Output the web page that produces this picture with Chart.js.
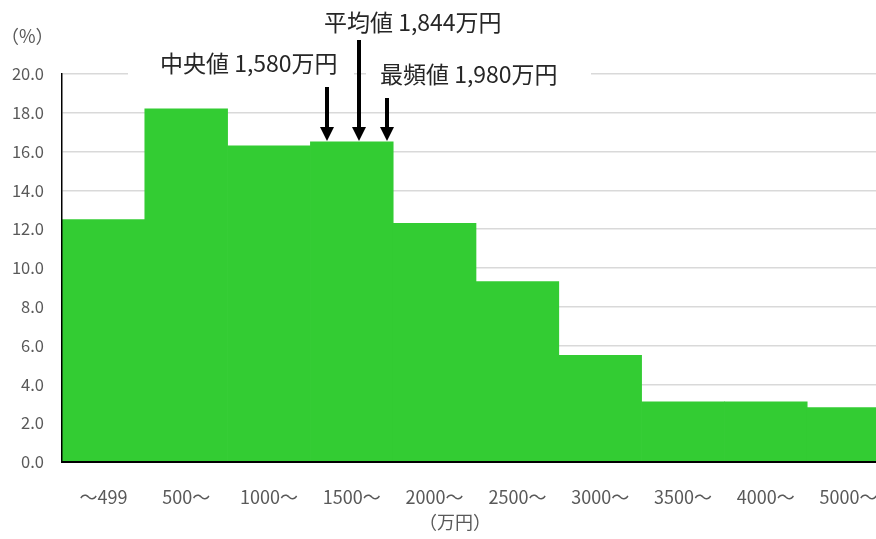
<!DOCTYPE html>
<html>
<head>
<meta charset="utf-8">
<script src="https://cdn.jsdelivr.net/npm/chart.js@4/dist/chart.umd.min.js"></script>
<style>
  html, body { margin: 0; padding: 0; background: #fff; overflow: hidden; }
  #wrap { width: 890px; height: 539px; }
  canvas { display: block; }
</style>
</head>
<body>
<div id="wrap"><canvas id="chart" width="890" height="539" style="width:890px;height:539px"></canvas></div>
<script>
// 世帯の年収分布（万円）
const categories = ['～499', '500～', '1000～', '1500～', '2000～', '2500～', '3000～', '3500～', '4000～', '5000～']
const shares = [12.5, 18.2, 16.3, 16.5, 12.3, 9.3, 5.5, 3.1, 3.1, 2.8]
const yTicks = [0, 2, 4, 6, 8, 10, 12, 14, 16, 18, 20]

// 代表値の注記: at = x軸上の位置（カテゴリ位置）, top = 矢印の起点
const markers = [
  { text: '中央値 1,580万円', at: 2.697, top: 87, textX: 160, textY: 63, box: [128, 45, 226, 38] },
  { text: '平均値 1,844万円', at: 3.083, top: 40, textX: 324, textY: 22, box: [318, 2, 192, 36] },
  { text: '最頻値 1,980万円', at: 3.429, top: 98, textX: 380, textY: 74, box: [366, 56, 225, 36] }
]

const FONT = '"Noto Sans CJK JP", "Noto Sans", sans-serif'

const annotations = {
  id: 'annotations',
  afterDraw (chart) {
    const { ctx, scales } = chart
    ctx.save()
    // 注記の背景（目盛線を隠す）
    ctx.fillStyle = '#ffffff'
    markers.forEach((m) => ctx.fillRect(m.box[0], m.box[1], m.box[2], m.box[3]))

    ctx.font = '23px ' + FONT
    ctx.fillStyle = '#262626'
    ctx.textBaseline = 'middle'
    ctx.textAlign = 'left'
    markers.forEach((m) => ctx.fillText(m.text, m.textX, m.textY))

    // 矢印
    const tipY = scales.y.getPixelForValue(shares[3]) - 1
    ctx.fillStyle = '#000000'
    ctx.strokeStyle = '#000000'
    ctx.lineWidth = 4
    markers.forEach((m) => {
      const x = Math.round(scales.x.getPixelForValue(m.at))
      ctx.beginPath()
      ctx.moveTo(x, m.top)
      ctx.lineTo(x, tipY - 12)
      ctx.stroke()
      ctx.beginPath()
      ctx.moveTo(x - 7, tipY - 14)
      ctx.lineTo(x + 7, tipY - 14)
      ctx.lineTo(x, tipY)
      ctx.closePath()
      ctx.fill()
    })

    // 軸の単位
    ctx.font = '18px ' + FONT
    ctx.fillStyle = '#595959'
    ctx.textAlign = 'left'
    ctx.fillText('（%）', 1, 36)
    ctx.textAlign = 'center'
    ctx.fillText('（万円）', 455, 522)
    ctx.restore()
  }
}

new Chart(document.getElementById('chart'), {
  type: 'bar',
  data: {
    labels: categories,
    datasets: [{
      data: shares,
      backgroundColor: '#33cc33',
      borderWidth: 0,
      barPercentage: 1.0,
      categoryPercentage: 1.0
    }]
  },
  options: {
    responsive: false,
    animation: false,
    events: [],
    layout: { padding: { top: 74, right: 0, bottom: 0, left: 0 } },
    plugins: {
      legend: { display: false },
      tooltip: { enabled: false }
    },
    scales: {
      x: {
        grid: { display: false, drawTicks: false },
        border: { color: '#000000', width: 2, z: 1 },
        ticks: {
          color: '#595959',
          font: { family: FONT, size: 18 },
          padding: 24,
          maxRotation: 0,
          autoSkip: false
        },
        afterFit (scale) {
          scale.height = 77
          scale.paddingLeft = 0
          scale.paddingRight = 0
        }
      },
      y: {
        min: 0,
        max: 20,
        afterBuildTicks (scale) { scale.ticks = yTicks.map((v) => ({ value: v })) },
        grid: { color: '#d9d9d9', lineWidth: 1.5, drawTicks: false },
        border: { color: '#000000', width: 1.5, z: 1 },
        ticks: {
          color: '#595959',
          font: { family: FONT, size: 16.5 },
          padding: 18,
          callback: (v) => Number(v).toFixed(1)
        },
        afterFit (scale) { scale.width = 62 }
      }
    }
  },
  plugins: [annotations]
})
</script>
</body>
</html>
